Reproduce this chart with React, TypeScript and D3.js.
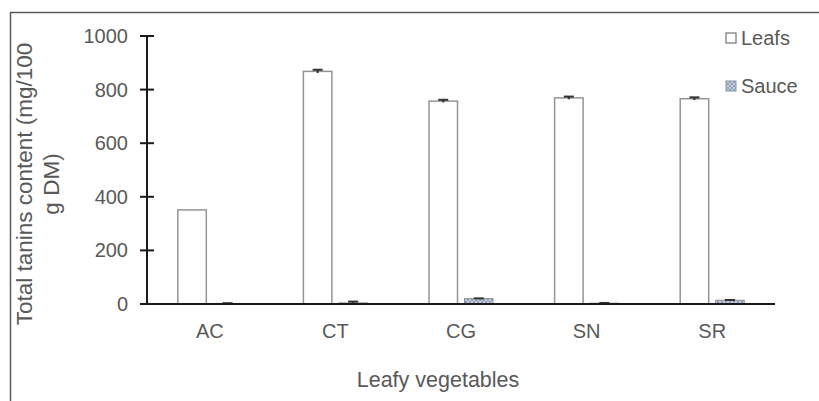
import React from "react";
import * as d3 from "d3";

const categories = ["AC", "CT", "CG", "SN", "SR"];
const leafs = [351, 868, 757, 769, 766];
const leafsErr = [0, 6, 5, 5, 5];
const sauce = [2, 4, 20, 3, 14];
const sauceErr = [1, 5, 1, 1, 1];
const yTicks = [0, 200, 400, 600, 800, 1000];
const seriesNames = ["Leafs", "Sauce"];

const W = 819;
const H = 401;
const FONT = "'Liberation Sans', Arial, sans-serif";
const TXT = "#595959";

export default function App() {
  const x0 = d3.scaleBand<string>().domain(categories).range([147, 775]).paddingInner(0).paddingOuter(0);
  const y = d3.scaleLinear().domain([0, 1000]).range([304, 36]);
  const barW = 28.5;
  const gap = 7;

  return (
    <svg width={W} height={H} style={{ position: "absolute", left: 0, top: 0, background: "#fff" }}>
      <defs>
        <pattern id="sp" width="4" height="4" patternUnits="userSpaceOnUse">
          <rect width="4" height="4" fill="#c3d0e4" />
          <path d="M0,0 L4,4 M4,0 L0,4" stroke="#8593a8" strokeWidth="0.8" />
        </pattern>
      </defs>
      <rect x={0} y={0} width={W} height={H} fill="#fff" />
      {/* frame */}
      <line x1={10} y1={12.5} x2={W} y2={12.5} stroke="#595959" strokeWidth={1.5} />
      <line x1={10.5} y1={12} x2={10.5} y2={H} stroke="#595959" strokeWidth={1.5} />

      {/* bars */}
      {categories.map((c, i) => {
        const cx = (x0(c) as number) + x0.bandwidth() / 2;
        const lx = cx - gap / 2 - barW;
        const sx = cx + gap / 2;
        return (
          <g key={c}>
            <rect x={lx} y={y(leafs[i])} width={barW} height={y(0) - y(leafs[i])} fill="#fff" stroke="#949494" strokeWidth={1.5} />
            <rect x={sx} y={y(sauce[i])} width={barW} height={y(0) - y(sauce[i])} fill="url(#sp)" stroke="#8c8c8c" strokeWidth={1} />
            {/* error bars */}
            <g stroke="#333" strokeWidth={2}>
              {leafsErr[i] > 0 && (
                <>
                  <line x1={lx + barW / 2} x2={lx + barW / 2} y1={y(leafs[i] + leafsErr[i])} y2={y(leafs[i] - leafsErr[i])} />
                  <line x1={lx + barW / 2 - 5} x2={lx + barW / 2 + 5} y1={y(leafs[i] + leafsErr[i])} y2={y(leafs[i] + leafsErr[i])} />
                </>
              )}
              <line x1={sx + barW / 2} x2={sx + barW / 2} y1={y(sauce[i] + sauceErr[i])} y2={y(sauce[i])} />
              <line x1={sx + barW / 2 - 5} x2={sx + barW / 2 + 5} y1={y(sauce[i] + sauceErr[i])} y2={y(sauce[i] + sauceErr[i])} />
            </g>
            <text x={cx} y={338} textAnchor="middle" fontFamily={FONT} fontSize={20} fill={TXT}>{c}</text>
          </g>
        );
      })}

      {/* y axis */}
      <line x1={147} x2={147} y1={y(1000)} y2={y(0)} stroke="#1a1a1a" strokeWidth={2} />
      {yTicks.map((t) => (
        <g key={t}>
          <line x1={140} x2={154} y1={y(t)} y2={y(t)} stroke="#1a1a1a" strokeWidth={2} />
          <text x={128} y={y(t) + 7} textAnchor="end" fontFamily={FONT} fontSize={20} fill={TXT}>{t}</text>
        </g>
      ))}
      {/* x axis */}
      <line x1={140} x2={775} y1={y(0)} y2={y(0)} stroke="#1a1a1a" strokeWidth={2} />

      {/* axis titles */}
      <text x={438} y={387} textAnchor="middle" fontFamily={FONT} fontSize={21.5} fill={TXT}>Leafy vegetables</text>
      <g transform="translate(32,184) rotate(-90)">
        <text x={0} y={0} textAnchor="middle" fontFamily={FONT} fontSize={22.5} fill={TXT}>Total tanins content (mg/100</text>
        <text x={0} y={27} textAnchor="middle" fontFamily={FONT} fontSize={22.5} fill={TXT}>g DM)</text>
      </g>

      {/* legend */}
      <rect x={726} y={33} width={10} height={10} fill="#fff" stroke="#595959" strokeWidth={1} />
      <text x={741} y={45} fontFamily={FONT} fontSize={20} fill={TXT}>{seriesNames[0]}</text>
      <rect x={726} y={81} width={10} height={10} fill="url(#sp)" stroke="#8593a8" strokeWidth={1} />
      <text x={741} y={93} fontFamily={FONT} fontSize={20} fill={TXT}>{seriesNames[1]}</text>
    </svg>
  );
}
